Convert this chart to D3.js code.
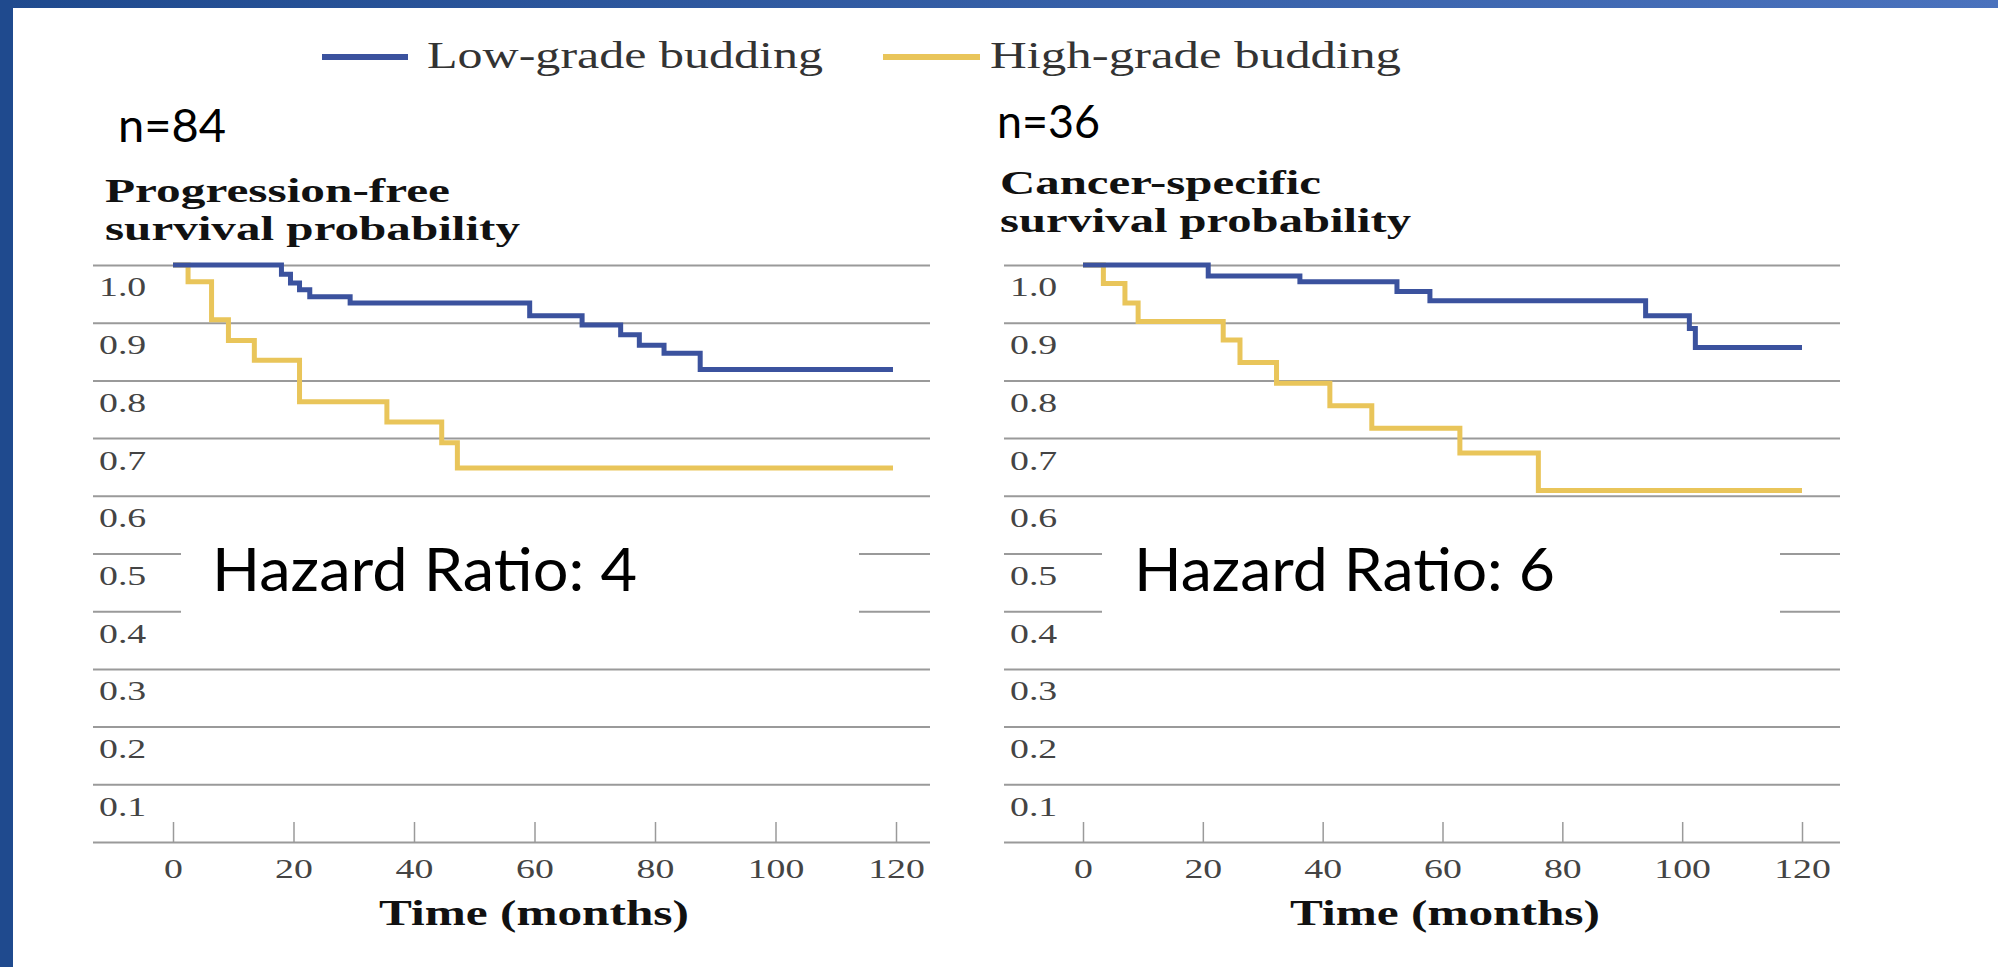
<!DOCTYPE html>
<html>
<head>
<meta charset="utf-8">
<script src="https://cdn.jsdelivr.net/npm/d3@7/dist/d3.min.js"></script>
<style>
  body { margin: 0; background: #fff; }
  svg { display: block; }
</style>
</head>
<body>
<div id="slide"></div>
<script>
// valeurs
var monthTicks = [0, 20, 40, 60, 80, 100, 120];
var probTicks = [0.1, 0.2, 0.3, 0.4, 0.5, 0.6, 0.7, 0.8, 0.9, 1.0];
var seriesNames = ["Low-grade budding", "High-grade budding"];

var pfsLowTime = [0, 18, 19.5, 21, 22.7, 29.4, 59.2, 67.9, 74.3, 77.4, 81.5, 87.5, 119.5];
var pfsLowSurv = [1.0, 0.984, 0.969, 0.957, 0.945, 0.934, 0.912, 0.896, 0.879, 0.861, 0.847, 0.819, 0.819];
var pfsHighTime = [0, 2.5, 6.4, 9.2, 13.5, 21.0, 35.5, 44.6, 47.2, 119.5];
var pfsHighSurv = [1.0, 0.971, 0.905, 0.869, 0.835, 0.763, 0.728, 0.692, 0.648, 0.648];

var cssLowTime = [0, 20.9, 36.2, 52.4, 57.9, 93.9, 101.2, 102.2, 120];
var cssLowSurv = [1.0, 0.981, 0.971, 0.954, 0.938, 0.912, 0.890, 0.857, 0.857];
var cssHighTime = [0, 3.4, 7.0, 9.2, 23.4, 26.2, 32.3, 41.2, 48.2, 62.9, 76.0, 120];
var cssHighSurv = [1.0, 0.968, 0.934, 0.902, 0.870, 0.831, 0.795, 0.756, 0.717, 0.674, 0.609, 0.609];

var W = 1998, H = 967;
var BLUE = "#3b529e", YELLOW = "#e9c55a", GRID = "#9a9a9a";
var SERIF = "'Liberation Serif', 'Times New Roman', serif";
var SANS = "Lato, 'Open Sans', sans-serif";
var STRETCH = 1.35;

var svg = d3.select("#slide").append("svg")
  .attr("width", W)
  .attr("height", H);

// cadre de la diapo
var grad = svg.append("defs").append("linearGradient").attr("id", "topbar");
grad.append("stop").attr("offset", "0%").attr("stop-color", "#1f4a8e");
grad.append("stop").attr("offset", "100%").attr("stop-color", "#4a72bd");
svg.append("rect").attr("x", 0).attr("y", 0).attr("width", W).attr("height", H).attr("fill", "#fff");
svg.append("rect").attr("x", 0).attr("y", 0).attr("width", W).attr("height", 8).attr("fill", "url(#topbar)");
svg.append("rect").attr("x", 0).attr("y", 0).attr("width", 13).attr("height", H).attr("fill", "#1f4a8e");

// legende
var legend = [
  {name: seriesNames[0], color: BLUE, x1: 322, x2: 408, tx: 427, tl: 396},
  {name: seriesNames[1], color: YELLOW, x1: 883, x2: 980, tx: 990, tl: 411}
];
legend.forEach(function (d) {
  svg.append("line")
    .attr("x1", d.x1).attr("x2", d.x2)
    .attr("y1", 57).attr("y2", 57)
    .attr("stroke", d.color)
    .attr("stroke-width", 6);
  svg.append("text")
    .attr("x", d.tx).attr("y", 68)
    .attr("font-family", SERIF)
    .attr("font-size", "38px")
    .attr("fill", "#333")
    .attr("textLength", d.tl)
    .attr("lengthAdjust", "spacingAndGlyphs")
    .text(d.name);
});

var panels = [
  {
    n: "n=84", nx: 118, ny: 142, nl: 108,
    title: ["Progression-free", "survival probability"], tx: 105, ty: [202, 240], tl: [345, 415],
    hr: "Hazard Ratio: 4", hrx: 212, hrl: 425, box: [181, 859],
    gx0: 93, gx1: 930, px0: 173, px1: 896, xt: 534,
    low: [pfsLowTime, pfsLowSurv], high: [pfsHighTime, pfsHighSurv]
  },
  {
    n: "n=36", nx: 997, ny: 138, nl: 103,
    title: ["Cancer-specific", "survival probability"], tx: 1000, ty: [194, 232], tl: [321, 411],
    hr: "Hazard Ratio: 6", hrx: 1134, hrl: 421, box: [1102, 1780],
    gx0: 1004, gx1: 1840, px0: 1083, px1: 1802, xt: 1445,
    low: [cssLowTime, cssLowSurv], high: [cssHighTime, cssHighSurv]
  }
];

var y = d3.scaleLinear().domain([0, 1]).range([842, 265]);

panels.forEach(function (p) {
  var x = d3.scaleLinear().domain([0, 120]).range([p.px0, p.px1]);
  var g = svg.append("g");

  g.append("text")
    .attr("x", p.nx).attr("y", p.ny)
    .attr("font-family", SANS)
    .attr("font-size", "46px")
    .attr("fill", "#000")
    .attr("textLength", p.nl)
    .attr("lengthAdjust", "spacingAndGlyphs")
    .text(p.n);

  p.title.forEach(function (t, i) {
    g.append("text")
      .attr("x", p.tx).attr("y", p.ty[i])
      .attr("font-family", SERIF)
      .attr("font-weight", "bold")
      .attr("font-size", "34px")
      .attr("fill", "#111")
      .attr("textLength", p.tl[i])
      .attr("lengthAdjust", "spacingAndGlyphs")
      .text(t);
  });

  // lignes de la grille (0 = axe)
  var grid = g.append("g")
    .attr("transform", "translate(" + p.gx0 + ",0)")
    .call(d3.axisRight(y).tickValues([0].concat(probTicks)).tickSize(p.gx1 - p.gx0).tickFormat(""));
  grid.select(".domain").remove();
  grid.selectAll("line").attr("stroke", GRID).attr("stroke-width", 2);

  var ylab = g.append("g")
    .attr("transform", "translate(" + p.gx0 + ",0)")
    .call(d3.axisRight(y).tickValues(probTicks).tickSize(0).tickPadding(6).tickFormat(d3.format(".1f")));
  ylab.select(".domain").remove();
  ylab.selectAll("text")
    .attr("dy", null)
    .attr("y", 31)
    .attr("font-family", SERIF)
    .attr("font-size", "28px")
    .attr("fill", "#444")
    .attr("transform", "scale(" + STRETCH + ",1)")
    .attr("x", 6 / STRETCH);

  var xax = g.append("g")
    .attr("transform", "translate(0," + y(0) + ")")
    .call(d3.axisBottom(x).tickValues(monthTicks).tickSizeInner(-20).tickSizeOuter(0).tickPadding(16));
  xax.select(".domain").remove();
  xax.selectAll("line").attr("stroke", GRID).attr("stroke-width", 1.5);
  xax.selectAll("text")
    .attr("font-family", SERIF)
    .attr("font-size", "28px")
    .attr("fill", "#444")
    .attr("transform", "scale(" + STRETCH + ",1)");

  g.append("text")
    .attr("x", p.xt).attr("y", 925)
    .attr("text-anchor", "middle")
    .attr("font-family", SERIF)
    .attr("font-weight", "bold")
    .attr("font-size", "35px")
    .attr("fill", "#111")
    .attr("textLength", 310)
    .attr("lengthAdjust", "spacingAndGlyphs")
    .text("Time (months)");

  var line = d3.line()
    .x(function (d) { return x(d[0]); })
    .y(function (d) { return y(d[1]); })
    .curve(d3.curveStepAfter);

  [[p.high, YELLOW], [p.low, BLUE]].forEach(function (s) {
    var pts = d3.zip(s[0][0], s[0][1]);
    g.append("path")
      .attr("d", line(pts))
      .attr("fill", "none")
      .attr("stroke", s[1])
      .attr("stroke-width", 5);
  });

  g.append("rect")
    .attr("x", p.box[0]).attr("y", 522)
    .attr("width", p.box[1] - p.box[0]).attr("height", 110)
    .attr("fill", "#fff");
  g.append("text")
    .attr("x", p.hrx).attr("y", 591)
    .attr("font-family", SANS)
    .attr("font-size", "60px")
    .attr("fill", "#000")
    .attr("textLength", p.hrl)
    .attr("lengthAdjust", "spacingAndGlyphs")
    .text(p.hr);
});
</script>
</body>
</html>
